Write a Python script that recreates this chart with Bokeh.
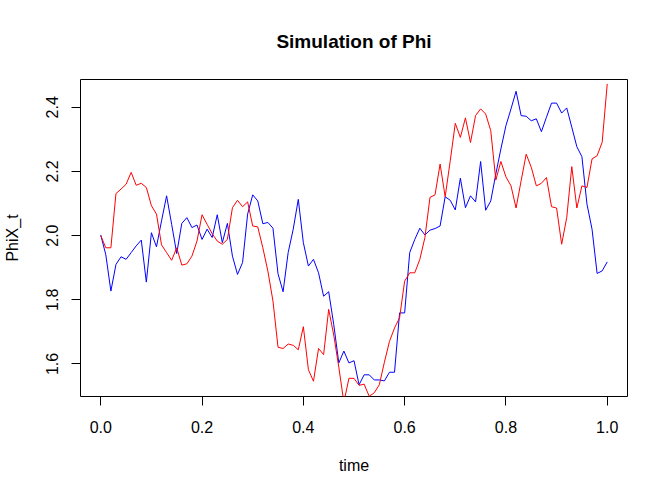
import numpy as np
from bokeh.plotting import figure
from bokeh.models import Range1d, FixedTicker, PrintfTickFormatter
from bokeh.embed import file_html
from bokeh.resources import INLINE

# ---- data ----
time = np.round(np.arange(101) * 0.01, 2)

phi_blue = [
    2.002, 1.940, 1.827, 1.910, 1.934, 1.926, 1.947, 1.968, 1.986, 1.855,
    2.009, 1.965, 2.046, 2.124, 2.035, 1.944, 2.038, 2.056, 2.025, 2.033,
    1.988, 2.020, 1.994, 2.065, 1.978, 2.038, 1.936, 1.879, 1.916, 2.067,
    2.127, 2.108, 2.037, 2.041, 2.023, 1.881, 1.825, 1.947, 2.020, 2.113,
    1.978, 1.905, 1.926, 1.884, 1.811, 1.825, 1.723, 1.603, 1.640, 1.603,
    1.610, 1.535, 1.566, 1.566, 1.550, 1.550, 1.547, 1.574, 1.574, 1.759,
    1.759, 1.947, 1.988, 2.023, 2.002, 2.017, 2.022, 2.030, 2.121, 2.110,
    2.080, 2.179, 2.087, 2.124, 2.105, 2.231, 2.079, 2.108, 2.192, 2.270,
    2.343, 2.395, 2.450, 2.374, 2.372, 2.358, 2.364, 2.324, 2.369, 2.413,
    2.413, 2.382, 2.398, 2.338, 2.277, 2.246, 2.098, 2.020, 1.882, 1.890,
    1.918,
]

phi_red = [
    2.000, 1.962, 1.962, 2.131, 2.145, 2.160, 2.197, 2.157, 2.163, 2.150,
    2.093, 2.067, 1.971, 1.947, 1.923, 1.962, 1.908, 1.912, 1.936, 1.983,
    2.065, 2.035, 2.006, 1.983, 1.973, 1.988, 2.087, 2.110, 2.090, 2.105,
    2.030, 2.027, 1.962, 1.889, 1.796, 1.652, 1.648, 1.662, 1.658, 1.644,
    1.716, 1.582, 1.546, 1.648, 1.629, 1.770, 1.690, 1.590, 1.480, 1.555,
    1.555, 1.533, 1.537, 1.499, 1.510, 1.535, 1.605, 1.670, 1.712, 1.744,
    1.858, 1.884, 1.884, 1.926, 1.994, 2.119, 2.127, 2.223, 2.121, 2.233,
    2.350, 2.306, 2.367, 2.290, 2.374, 2.395, 2.379, 2.327, 2.173, 2.231,
    2.183, 2.155, 2.086, 2.171, 2.254, 2.213, 2.155, 2.163, 2.181, 2.090,
    2.086, 1.973, 2.056, 2.215, 2.086, 2.155, 2.150, 2.239, 2.249, 2.291,
    2.473,
]

x_ticks = [0.0, 0.2, 0.4, 0.6, 0.8, 1.0]
y_ticks = [1.6, 1.8, 2.0, 2.2, 2.4]

title_text = "Simulation of Phi"
x_label = "time"
y_label = "PhiX_t"

# R-style axis limits: data range of the first series extended by 4%
ymin, ymax = min(phi_blue), max(phi_blue)
yext = 0.04 * (ymax - ymin)
xmin, xmax = float(time[0]), float(time[-1])
xext = 0.04 * (xmax - xmin)

FONT = "Liberation Sans"

p = figure(
    width=659, height=487,
    output_backend="svg", toolbar_location=None,
    x_range=Range1d(xmin - xext, xmax + xext),
    y_range=Range1d(ymin - yext, ymax + yext),
    min_border_left=79, min_border_right=32,
    min_border_top=79, min_border_bottom=91,
)

p.line(time, phi_blue, line_color="#0000FF", line_width=1)
p.line(time, phi_red, line_color="#FF0000", line_width=1)

p.title.text = title_text
p.title.align = "center"
p.title.text_font = FONT
p.title.text_font_size = "19px"
p.title.text_font_style = "bold"
p.title.text_color = "black"
p.title.standoff = 55

p.grid.visible = False
p.outline_line_color = "black"
p.outline_line_width = 1
p.outline_line_alpha = 1.0
p.background_fill_color = "white"
p.border_fill_color = "white"

for ax in (p.xaxis[0], p.yaxis[0]):
    ax.axis_line_color = None
    ax.major_tick_line_color = "black"
    ax.major_tick_out = 9
    ax.major_tick_in = 0
    ax.minor_tick_line_color = None
    ax.major_label_text_font = FONT
    ax.major_label_text_font_size = "16px"
    ax.major_label_text_color = "black"
    ax.axis_label_text_font = FONT
    ax.axis_label_text_font_size = "16px"
    ax.axis_label_text_font_style = "normal"
    ax.axis_label_text_color = "black"
    ax.formatter = PrintfTickFormatter(format="%.1f")

p.xaxis[0].ticker = FixedTicker(ticks=x_ticks)
p.yaxis[0].ticker = FixedTicker(ticks=y_ticks)
p.xaxis[0].axis_label = x_label
p.yaxis[0].axis_label = y_label
p.xaxis[0].major_label_standoff = 15
p.xaxis[0].axis_label_standoff = 21
p.yaxis[0].major_label_orientation = "vertical"
p.yaxis[0].major_label_standoff = 13
p.yaxis[0].axis_label_standoff = 23

open("out.html", "w").write(file_html(p, INLINE))
